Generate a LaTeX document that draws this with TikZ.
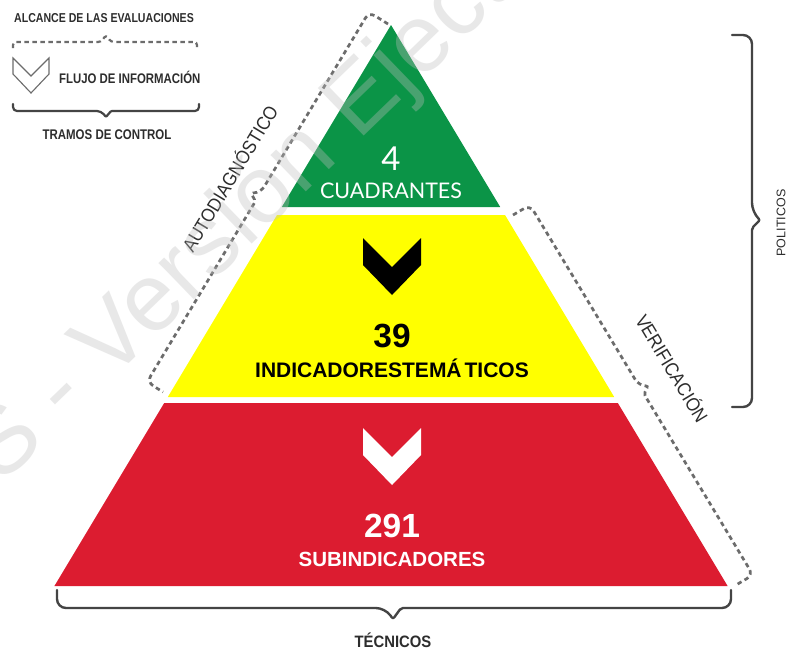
\documentclass[tikz,border=0pt]{standalone}
\usepackage{fontspec}
\setmainfont{Liberation Sans}
\newfontfamily\latofont{Lato}
\newfontfamily\condfont[FakeStretch=0.9]{Liberation Sans}
\newfontfamily\legfont[FakeStretch=0.82]{Liberation Sans}
\usetikzlibrary{calc}
\definecolor{pgreen}{RGB}{11,148,71}
\definecolor{pyellow}{RGB}{255,255,0}
\definecolor{pred}{RGB}{220,28,48}
\definecolor{braceg}{RGB}{68,68,68}
\definecolor{dashg}{RGB}{108,108,108}
\definecolor{legtext}{RGB}{45,45,45}
\definecolor{wmgray}{RGB}{190,190,190}
\tikzset{
  solidbrace/.style={draw=braceg, line width=2.4pt, line cap=round, line join=round},
  dashbrace/.style={draw=dashg, line width=2.7pt, dash pattern=on 4.5pt off 3.5pt, rounded corners=7pt},
  legdash/.style={draw=dashg, line width=2.2pt, dash pattern=on 4.5pt off 3.5pt, rounded corners=3pt},
  legtxt/.style={text=legtext, inner sep=0pt, anchor=base},
  sidetxt/.style={text=legtext, inner sep=0pt, font=\condfont\fontsize{19}{20}\selectfont},
  numtxt/.style={inner sep=0pt, anchor=base, font=\bfseries\fontsize{33.5}{34}\selectfont},
  lbltxt/.style={inner sep=0pt, anchor=base, font=\bfseries\fontsize{21}{22}\selectfont},
}
\begin{document}
\begin{tikzpicture}[x=1pt,y=-1pt]
\useasboundingbox (0,0) rectangle (797,649);
\fill[white] (0,0) rectangle (797,649);

% pyramid tiers
\fill[pgreen] (391,25) -- (500.2,207) -- (281.8,207) -- cycle;
\fill[pyellow] (277,215) -- (505,215) -- (614.2,397) -- (167.8,397) -- cycle;
\fill[pred] (164.2,403) -- (617.8,403) -- (727.6,586) -- (54.4,586) -- cycle;

% chevrons
\fill[black] (363,238) -- (392,267) -- (421,238) -- (421,265) -- (392,295) -- (363,265) -- cycle;
\fill[white] (363,428) -- (392,457) -- (421,428) -- (421,455) -- (392,485) -- (363,455) -- cycle;

% tier labels
\node[inner sep=0pt, anchor=base, text=white, font=\latofont\fontsize{33}{33}\selectfont] (n4) at (391,170) {4};
\node[inner sep=0pt, anchor=base, text=white, font=\latofont\fontsize{21.5}{22}\selectfont] (cuad) at (391,198) {CUADRANTES};
\node[numtxt, text=black] (n39) at (392,347) {39};
\node[lbltxt, text=black] (ind) at (392,377) {INDICADORESTEMÁ\hspace{3pt}TICOS};
\node[numtxt, text=white] (n291) at (392,537) {291};
\node[lbltxt, text=white, font=\bfseries\fontsize{20.5}{22}\selectfont] (sub) at (392,566) {SUBINDICADORES};

% left dashed bracket (autodiagnostico)
\coordinate (la) at (388,24);
\coordinate (lb) at (369,12);
\coordinate (lm1) at (260.6,192.7);
\coordinate (lt) at (251,193);
\coordinate (lm2) at (255.4,201.3);
\coordinate (lc) at (147,382);
\coordinate (ld) at (163,392);
\draw[dashbrace] (la) -- (lb) -- (lm1) [rounded corners=2pt] -- (lt) -- (lm2) [rounded corners=7pt] -- (lc) -- (ld);

% right dashed bracket (verificacion)
\coordinate (ra) at (513,215);
\coordinate (rb) at (530,205);
\coordinate (rm1) at (638.9,385.7);
\coordinate (rt) at (648,386);
\coordinate (rm2) at (644,394);
\coordinate (rc) at (753,575);
\coordinate (rd) at (736,585);
\draw[dashbrace] (ra) -- (rb) -- (rm1) [rounded corners=2pt] -- (rt) -- (rm2) [rounded corners=7pt] -- (rc) -- (rd);

% right solid brace (politicos)
\coordinate (pa) at (732,35);
\coordinate (pb) at (752,35);
\coordinate (pc) at (752,212);
\coordinate (pt) at (760,220);
\coordinate (pd) at (752,228);
\coordinate (pe) at (752,407);
\coordinate (pf) at (732,407);
\draw[solidbrace] (pa) [rounded corners=9pt] -- (pb) -- (pc) [rounded corners=2pt] -- (pt) -- (pd) [rounded corners=9pt] -- (pe) -- (pf);

% bottom solid brace (tecnicos)
\coordinate (ba) at (57,590);
\coordinate (bb) at (57,608);
\coordinate (bc) at (385,608);
\coordinate (bt) at (393,619);
\coordinate (bd) at (401,608);
\coordinate (be) at (731,608);
\coordinate (bf) at (731,590);
\draw[solidbrace] (ba) [rounded corners=9pt] -- (bb) -- (bc) [rounded corners=2pt] -- (bt) -- (bd) [rounded corners=9pt] -- (be) -- (bf);

% side labels
\node[sidetxt, rotate=59] (auto) at (229,178) {AUTODIAGNÓSTICO};
\node[sidetxt, rotate=-59] (veri) at (673,368) {VERIFICACIÓN};
\node[text=legtext, inner sep=0pt, rotate=90, font=\fontsize{12.5}{13}\selectfont] (pol) at (781,223) {POLITICOS};
\node[legtxt, font=\condfont\bfseries\fontsize{16.5}{17}\selectfont] (tec) at (393,647) {TÉCNICOS};

% legend
\node[legtxt, font=\legfont\bfseries\fontsize{12.9}{13}\selectfont] (alc) at (104,22) {ALCANCE DE LAS EVALUACIONES};
\coordinate (ga) at (13,48);
\coordinate (gb) at (13,42);
\coordinate (gc) at (101,42);
\coordinate (gt) at (106,35);
\coordinate (gd) at (111,42);
\coordinate (ge) at (197,42);
\coordinate (gf) at (197,48);
\draw[legdash] (ga) -- (gb) -- (gc) -- (gt) -- (gd) -- (ge) -- (gf);
\draw[draw=dashg, line width=1.1pt, line join=miter] (13,58) -- (31,76) -- (49,58) -- (49,74) -- (31,93) -- (13,74) -- cycle;
\node[legtxt, anchor=base west, font=\legfont\bfseries\fontsize{13.9}{14}\selectfont] (flujo) at (59,83) {FLUJO DE INFORMACIÓN};
\coordinate (sa) at (13,104);
\coordinate (sb) at (13,111);
\coordinate (sc) at (101,111);
\coordinate (st) at (106,117);
\coordinate (sd) at (111,111);
\coordinate (se) at (199,111);
\coordinate (sf) at (199,104);
\draw[solidbrace, line width=2.2pt] (sa) [rounded corners=4pt] -- (sb) -- (sc) [rounded corners=1pt] -- (st) -- (sd) [rounded corners=4pt] -- (se) -- (sf);
\node[legtxt, font=\legfont\bfseries\fontsize{14}{14}\selectfont] (tram) at (107,139) {TRAMOS DE CONTROL};

% watermark
\begin{scope}
\clip (0,0) rectangle (797,649);
\node[inner sep=0pt, anchor=base west, rotate=44, text=wmgray, opacity=0.35, font=\fontsize{96}{96}\selectfont] (wm) at (-52,538) {OS - Versión Ejecutiva};
\end{scope}
\end{tikzpicture}
\end{document}
